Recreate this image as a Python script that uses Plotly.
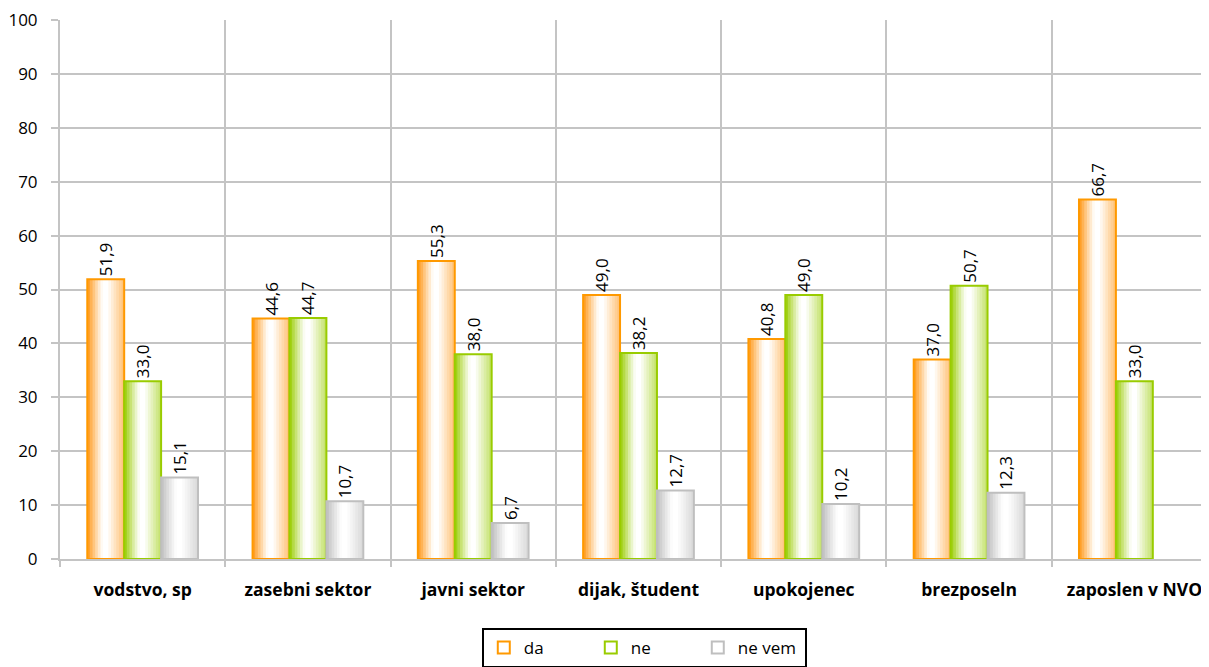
import plotly.graph_objects as go

categories = ["vodstvo, sp", "zasebni sektor", "javni sektor", "dijak, študent",
              "upokojenec", "brezposeln", "zaposlen v NVO"]
series_names = ["da", "ne", "ne vem"]
da = [51.9, 44.6, 55.3, 49.0, 40.8, 37.0, 66.7]
ne = [33.0, 44.7, 38.0, 38.2, 49.0, 50.7, 33.0]
ne_vem = [15.1, 10.7, 6.7, 12.7, 10.2, 12.3, None]
y_ticks = [0, 10, 20, 30, 40, 50, 60, 70, 80, 90, 100]

series_values = [da, ne, ne_vem]
base_colors = [(255, 150, 20), (153, 204, 0), (190, 190, 190)]
line_colors = ["#FF9900", "#99CC00", "#BFBFBF"]

FONT = "Open Sans"
group_w = 0.67
bar_w = group_w / 3
N = 14


def intensity(t):
    if t < 0.42:
        return (1 - t / 0.42) ** 1.1
    if t < 0.55:
        return 0.0
    return 0.6 * (t - 0.55) / 0.45


def mix(c, f):
    r, g, b = [int(round(255 * (1 - f) + ch * f)) for ch in c]
    return f"rgb({r},{g},{b})"


fig = go.Figure()
for s, (name, vals) in enumerate(zip(series_names, series_values)):
    left = -group_w / 2 + s * bar_w
    for k in range(N):
        t = (k + 0.5) / N
        off = left + k * bar_w / N
        fig.add_trace(go.Bar(
            x=categories, y=vals, offset=off, width=left + bar_w - off,
            marker=dict(color=mix(base_colors[s], intensity(t)), line=dict(width=0)),
            showlegend=False, hoverinfo="skip"))
    fig.add_trace(go.Bar(
        x=categories, y=vals, offset=left, width=bar_w, name=name,
        marker=dict(color="rgba(255,255,255,0)", line=dict(color=line_colors[s], width=2)),
        texttemplate="%{y:.1f}", textposition="outside", textangle=-90,
        constraintext="none", cliponaxis=False,
        textfont=dict(family=FONT, size=17, color="#000000")))

fig.update_layout(
    barmode="overlay",
    separators=", ",
    width=1209, height=667,
    margin=dict(l=52, r=0, t=12, b=116),
    paper_bgcolor="white", plot_bgcolor="white",
    font=dict(family=FONT, size=17, color="#000000"),
    legend=dict(orientation="h", xanchor="center", x=0.505, yanchor="top", y=-0.128,
                bordercolor="#000000", borderwidth=2, entrywidth=62, entrywidthmode="pixels",
                font=dict(family=FONT, size=17), itemsizing="constant"),
    xaxis=dict(type="category", range=[-0.5, 6.5], tickson="boundaries", automargin=False,
               showgrid=True, gridcolor="#C4C4C4", gridwidth=2,
               showline=True, linecolor="#C4C4C4", linewidth=2,
               ticks="outside", ticklen=6, tickcolor="#C4C4C4", tickwidth=2,
               ticklabelstandoff=14,
               tickfont=dict(family=FONT, size=17.5, weight="bold")),
    yaxis=dict(range=[0, 100], tickvals=y_ticks, showgrid=True, gridcolor="#C4C4C4", gridwidth=2,
               showline=True, linecolor="#C4C4C4", linewidth=2, zeroline=False, automargin=False,
               ticks="outside", ticklen=7, tickcolor="#C4C4C4", tickwidth=2,
               ticklabelstandoff=10, ticklabeloverflow="allow",
               tickfont=dict(family=FONT, size=17)),
)

fig.write_html("out.html")
